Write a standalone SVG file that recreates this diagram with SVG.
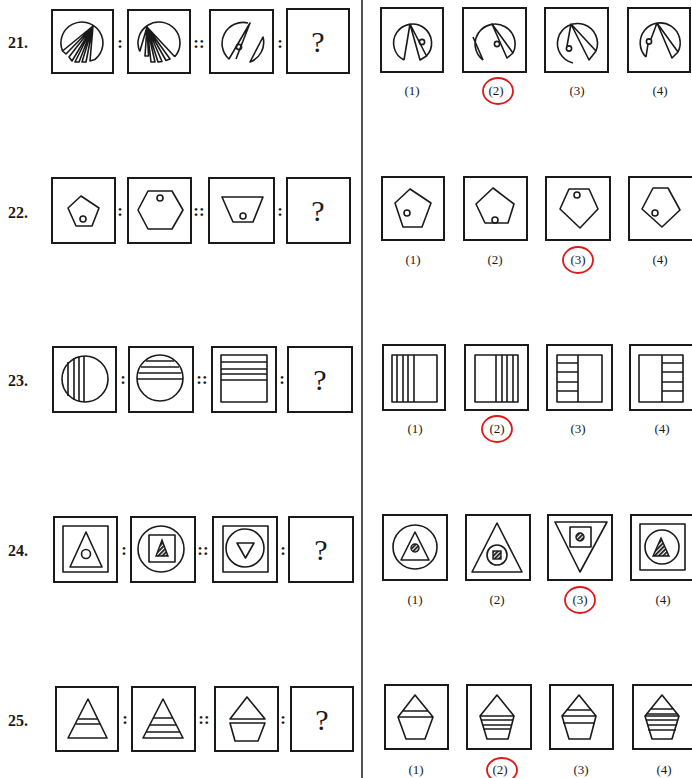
<svg xmlns="http://www.w3.org/2000/svg" width="692" height="778" viewBox="0 0 692 778">
<style>
.b{fill:none;stroke:#1a1a1a;stroke-width:2}
.f{fill:none;stroke:#1a1a1a;stroke-width:1.6;stroke-linejoin:round}
.num{font-family:"Liberation Serif",serif;font-weight:bold;font-size:16px;fill:#1a1a1a}
.col{font-family:"Liberation Serif",serif;font-weight:bold;font-size:17px;fill:#1a1a1a;text-anchor:middle}
.q{font-family:"Liberation Serif",serif;font-size:30px;fill:#1a1a1a;text-anchor:middle}
.lb{font-family:"Liberation Serif",serif;font-size:13px;fill:#1a1a1a;text-anchor:middle}
.rc{fill:none;stroke:#e01818;stroke-width:1.8}
.h{fill:url(#hatch);stroke:#1a1a1a;stroke-width:1.4}
</style>
<defs>
<pattern id="hatch" width="3" height="3" patternUnits="userSpaceOnUse" patternTransform="rotate(45)">
<rect width="3" height="3" fill="#fff"/><rect width="1.8" height="3" fill="#1a1a1a"/>
</pattern>
</defs>
<rect width="692" height="778" fill="#fff"/>
<line x1="362" y1="0" x2="362" y2="778" stroke="#1a1a1a" stroke-width="1.5"/>

<!-- Row 21 -->
<g id="q21">
<text class="num" x="8" y="48">21.</text>
<rect class="b" x="52" y="10" width="61" height="63"/>
<path class="f" d="M94.9 59.5 A21 21 0 1 0 62.5 51 M93 26 L62.5 51 L66 54 Z M93 26 L69 57 L72 61 Z M93 26 L75 62 L79 62 Z M93 26 L82 62 L86 62 Z M93 26 L90 61 L94.9 59.5"/>
<text class="col" x="120" y="48">:</text>
<rect class="b" x="128" y="10" width="62" height="63"/>
<path class="f" d="M174.8 56.8 A21 21 0 1 0 139.8 51.5 M147 27 L139.8 51.5 M147 27 L145 56 L148.5 56 Z M147 27 L151 62 L155 62 Z M147 27 L158 62 L162 61.5 Z M147 27 L166 60.5 L170 59 Z M147 27 L174.8 56.8"/>
<text class="col" x="199" y="48">::</text>
<rect class="b" x="210" y="10" width="63" height="63"/>
<path class="f" d="M248 23 A21 21 0 0 0 229 59 L250 23 L236 59 M263 37 A21 21 0 0 1 250 62 Z"/>
<circle class="f" cx="239" cy="47" r="2.6"/>
<text class="col" x="280" y="48">:</text>
<rect class="b" x="287" y="9" width="62" height="64"/>
<text class="q" x="318" y="52">?</text>
</g>
<g id="o21">
<rect class="b" x="381" y="8" width="62" height="64"/>
<path class="f" d="M404 60 A19 19 0 1 1 426.5 56 M404 60 L410 24 M410 24 L420 60 L426.5 56 Z"/>
<circle class="f" cx="422" cy="42" r="2.6"/>
<rect class="b" x="463" y="8" width="63" height="64"/>
<path class="f" d="M483 60 A20 20 0 1 1 513 53 M473 37 L483 60 M492 24 L507 58 L513 53 Z"/>
<circle class="f" cx="497" cy="44" r="2.6"/>
<rect class="b" x="545" y="8" width="63" height="64"/>
<path class="f" d="M573 63 A20 20 0 1 1 596 51 M571 24 L567 46 M571 24 L589 60 L596 51 Z"/>
<circle class="f" cx="569" cy="48.5" r="2.6"/>
<rect class="b" x="628" y="8" width="62" height="64"/>
<path class="f" d="M646 57 A20 20 0 1 1 678 52 M646 57 L648 44 M657 23 L651 39 M657 23 L672 58 L678 52 Z"/>
<circle class="f" cx="649" cy="41.5" r="2.6"/>
<text class="lb" x="412" y="95">(1)</text>
<text class="lb" x="496" y="95">(2)</text>
<text class="lb" x="577" y="95">(3)</text>
<text class="lb" x="660" y="95">(4)</text>
<ellipse class="rc" cx="498" cy="91" rx="15" ry="13"/>
</g>

<!-- Row 22 -->
<g id="q22">
<text class="num" x="8" y="218">22.</text>
<rect class="b" x="52" y="178" width="63" height="65"/>
<polygon class="f" points="81,196 99,208 92,226 76,226 68,208"/>
<circle class="f" cx="83" cy="219" r="3"/>
<text class="col" x="120" y="216">:</text>
<rect class="b" x="128" y="178" width="63" height="65"/>
<polygon class="f" points="148,191 172,191 183,210 172,229 148,229 138,210"/>
<circle class="f" cx="160" cy="198" r="3"/>
<text class="col" x="199" y="216">::</text>
<rect class="b" x="209" y="178" width="65" height="65"/>
<polygon class="f" points="222,197 263,197 253,222 233,222"/>
<circle class="f" cx="243" cy="216" r="3"/>
<text class="col" x="280" y="216">:</text>
<rect class="b" x="287" y="178" width="63" height="65"/>
<text class="q" x="318" y="221">?</text>
</g>
<g id="o22">
<rect class="b" x="382" y="177" width="62" height="63"/>
<polygon class="f" points="410,189 431,203 422,227 403,227 395,203"/>
<circle class="f" cx="407" cy="213" r="3"/>
<rect class="b" x="464" y="177" width="63" height="63"/>
<polygon class="f" points="493,188 514,204 508,223 485,223 476,204"/>
<circle class="f" cx="495" cy="220" r="3"/>
<rect class="b" x="546" y="177" width="64" height="63"/>
<polygon class="f" points="569,189 589,189 598,209 580,228 560,209"/>
<circle class="f" cx="577" cy="195" r="3"/>
<rect class="b" x="629" y="177" width="64" height="63"/>
<polygon class="f" points="653,188 668,188 680,210 662,227 642,209"/>
<circle class="f" cx="655" cy="213" r="3"/>
<text class="lb" x="413" y="264">(1)</text>
<text class="lb" x="495" y="264">(2)</text>
<text class="lb" x="578" y="264">(3)</text>
<text class="lb" x="660" y="264">(4)</text>
<ellipse class="rc" cx="578" cy="260" rx="15" ry="13"/>
</g>

<!-- Row 23 -->
<g id="q23">
<text class="num" x="8" y="386">23.</text>
<rect class="b" x="53" y="347" width="63" height="65"/>
<circle class="f" cx="85" cy="379" r="23"/>
<path class="f" d="M68 362 V396 M74 358 V400 M79 356.5 V401.5 M84 356 V402"/>
<text class="col" x="123" y="384">:</text>
<rect class="b" x="129" y="347" width="64" height="65"/>
<circle class="f" cx="160" cy="378" r="23"/>
<path class="f" d="M146 361 H174 M141 367 H179 M138.5 373 H181.5 M137 379 H183"/>
<text class="col" x="202" y="384">::</text>
<rect class="b" x="212" y="347" width="64" height="65"/>
<rect class="f" x="221" y="355" width="46" height="47"/>
<path class="f" d="M221 362 H267 M221 369 H267 M221 374 H267 M221 380 H267"/>
<text class="col" x="282" y="384">:</text>
<rect class="b" x="288" y="347" width="64" height="65"/>
<text class="q" x="320" y="390">?</text>
</g>
<g id="o23">
<rect class="b" x="383" y="345" width="62" height="65"/>
<rect class="f" x="392" y="355" width="45" height="47"/>
<path class="f" d="M397 355 V402 M403 355 V402 M408 355 V402 M414 355 V402"/>
<rect class="b" x="465" y="345" width="63" height="65"/>
<rect class="f" x="475" y="355" width="43" height="47"/>
<path class="f" d="M496 355 V402 M502 355 V402 M507 355 V402 M513 355 V402"/>
<rect class="b" x="547" y="345" width="65" height="65"/>
<rect class="f" x="557" y="355" width="45" height="47"/>
<path class="f" d="M578 355 V402 M557 363 H578 M557 372 H578 M557 382 H578 M557 391 H578"/>
<rect class="b" x="630" y="345" width="63" height="65"/>
<rect class="f" x="639" y="355" width="44" height="47"/>
<path class="f" d="M662 355 V402 M662 363 H683 M662 372 H683 M662 382 H683 M662 391 H683"/>
<text class="lb" x="415" y="433">(1)</text>
<text class="lb" x="497" y="433">(2)</text>
<text class="lb" x="578" y="433">(3)</text>
<text class="lb" x="662" y="433">(4)</text>
<ellipse class="rc" cx="497" cy="429" rx="15" ry="13"/>
</g>

<!-- Row 24 -->
<g id="q24">
<text class="num" x="8" y="556">24.</text>
<rect class="b" x="54" y="517" width="63" height="65"/>
<rect class="f" x="63" y="526" width="45" height="46"/>
<polygon class="f" points="86,532 102,567 70,567"/>
<circle class="f" cx="86" cy="554" r="4.5"/>
<text class="col" x="124" y="555">:</text>
<rect class="b" x="131" y="517" width="64" height="65"/>
<circle class="f" cx="161" cy="549" r="23"/>
<rect class="f" x="149" y="535" width="26" height="27"/>
<polygon class="h" points="162,540 168,556 156,556"/>
<text class="col" x="203" y="555">::</text>
<rect class="b" x="213" y="517" width="64" height="65"/>
<rect class="f" x="223" y="526" width="45" height="46"/>
<circle class="f" cx="245" cy="548" r="19"/>
<polygon class="f" points="237,543 254,543 245.5,558"/>
<text class="col" x="283" y="555">:</text>
<rect class="b" x="289" y="517" width="64" height="65"/>
<text class="q" x="321" y="560">?</text>
</g>
<g id="o24">
<rect class="b" x="383" y="515" width="64" height="65"/>
<circle class="f" cx="415" cy="547" r="22"/>
<polygon class="f" points="415,532 429,560 401,560"/>
<circle class="h" cx="415" cy="548" r="4"/>
<rect class="b" x="466" y="515" width="64" height="65"/>
<polygon class="f" points="497,523 522,572 472,572"/>
<circle class="f" cx="497" cy="555" r="10"/>
<rect class="h" x="493" y="551" width="8" height="8"/>
<rect class="b" x="548" y="515" width="64" height="65"/>
<polygon class="f" points="555,522 607,522 580,572"/>
<rect class="f" x="570" y="527" width="21" height="20"/>
<circle class="h" cx="580" cy="537" r="4"/>
<rect class="b" x="631" y="515" width="62" height="65"/>
<rect class="f" x="640" y="524" width="45" height="46"/>
<circle class="f" cx="662" cy="547" r="17"/>
<polygon class="h" points="661,538 669,556 653,556"/>
<text class="lb" x="415" y="604">(1)</text>
<text class="lb" x="497" y="604">(2)</text>
<text class="lb" x="580" y="604">(3)</text>
<text class="lb" x="663" y="604">(4)</text>
<ellipse class="rc" cx="580" cy="600" rx="15" ry="13"/>
</g>

<!-- Row 25 -->
<g id="q25">
<text class="num" x="8" y="726">25.</text>
<rect class="b" x="56" y="687" width="62" height="64"/>
<polygon class="f" points="88,699 107,738 68,738"/>
<path class="f" d="M78.3 719 H97.7 M75.8 724 H100.2"/>
<text class="col" x="125" y="724">:</text>
<rect class="b" x="132" y="687" width="63" height="64"/>
<polygon class="f" points="163,699 183,738 143,738"/>
<path class="f" d="M153.3 718 H172.7 M149.7 725 H176.3 M146.2 732 H179.8"/>
<text class="col" x="204" y="724">::</text>
<rect class="b" x="215" y="687" width="63" height="64"/>
<path class="f" d="M247 697 L265 719 L230 719 Z M230 723 H265 L258 741 H235 Z"/>
<text class="col" x="283" y="724">:</text>
<rect class="b" x="291" y="687" width="62" height="64"/>
<text class="q" x="322" y="730">?</text>
</g>
<g id="o25">
<rect class="b" x="385" y="685" width="63" height="64"/>
<path class="f" d="M415 695 L433 717 L398 717 Z M403 711 H428 M398 717 L406 739 H425 L433 717"/>
<rect class="b" x="467" y="685" width="64" height="64"/>
<path class="f" d="M497 695 L514 716 L480 716 Z M480 716 L487 739 H508 L514 716 M481 720 H513 M482 725 H512 M483 729 H511"/>
<rect class="b" x="550" y="685" width="63" height="64"/>
<path class="f" d="M579 695 L596 716 L562 716 Z M566 710 H592 M562 716 L569 739 H590 L596 716 M563 723 H595"/>
<rect class="b" x="633" y="685" width="60" height="64"/>
<path class="f" d="M662 695 L679 716 L645 716 Z M650 709 H674 M646 714 H678 M645 716 L652 739 H672 L679 716 M646 720 H678 M647 725 H677 M648 730 H676"/>
<text class="lb" x="416" y="774">(1)</text>
<text class="lb" x="500" y="774">(2)</text>
<text class="lb" x="581" y="774">(3)</text>
<text class="lb" x="664" y="774">(4)</text>
<ellipse class="rc" cx="502" cy="770" rx="15" ry="12"/>
</g>
</svg>
